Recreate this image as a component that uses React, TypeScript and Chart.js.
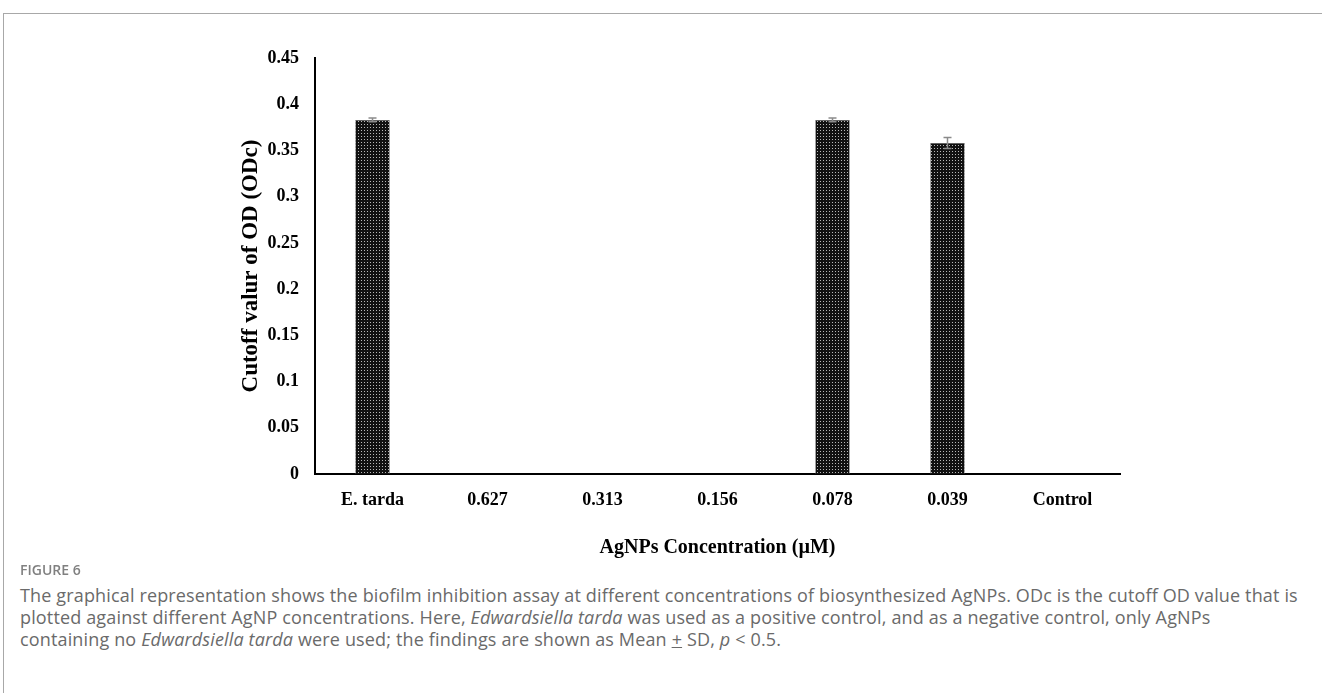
import { useEffect, useRef } from "react";
import { Chart, registerables } from "chart.js";
Chart.register(...registerables);

const categories = ["E. tarda", "0.627", "0.313", "0.156", "0.078", "0.039", "Control"];
const odcValues = [0.383, 0, 0, 0, 0.383, 0.358, 0];
const odcErrors = [0.002, 0, 0, 0, 0.002, 0.006, 0];
const yMin = 0;
const yMax = 0.45;
const yStep = 0.05;

const serif = "'Liberation Serif', 'Times New Roman', serif";

function makePattern(): CanvasPattern | string {
  const c = document.createElement("canvas");
  c.width = 3;
  c.height = 3;
  const g = c.getContext("2d");
  if (!g) return "#111";
  g.fillStyle = "#111";
  g.fillRect(0, 0, 3, 3);
  g.fillStyle = "#b8b8b8";
  g.fillRect(1, 1, 1, 1);
  const p = g.createPattern(c, "repeat");
  return p || "#111";
}

const errorBarPlugin = {
  id: "errorBars",
  afterDatasetsDraw(chart: any) {
    const ctx = chart.ctx;
    const meta = chart.getDatasetMeta(0);
    const yScale = chart.scales.y;
    ctx.save();
    ctx.strokeStyle = "#8a8a8a";
    ctx.lineWidth = 1.5;
    meta.data.forEach((bar: any, i: number) => {
      const v = odcValues[i];
      const e = odcErrors[i];
      if (!e) return;
      const x = bar.x;
      const yTop = yScale.getPixelForValue(v + e);
      const yBot = yScale.getPixelForValue(v - e);
      ctx.beginPath();
      ctx.moveTo(x, yTop);
      ctx.lineTo(x, yBot);
      ctx.moveTo(x - 4, yTop);
      ctx.lineTo(x + 4, yTop);
      ctx.moveTo(x - 4, yBot);
      ctx.lineTo(x + 4, yBot);
      ctx.stroke();
    });
    ctx.restore();
  },
};

export default function App() {
  const ref = useRef<HTMLCanvasElement | null>(null);

  useEffect(() => {
    document.body.style.margin = "0";
    const canvas = ref.current;
    if (!canvas) return;
    const chart = new Chart(canvas, {
      type: "bar",
      data: {
        labels: categories,
        datasets: [
          {
            label: "ODc",
            data: odcValues,
            backgroundColor: makePattern() as any,
            borderColor: "#666",
            borderWidth: 0.5,
            barPercentage: 0.3,
            categoryPercentage: 1,
          },
        ],
      },
      options: {
        animation: false,
        responsive: false,
        maintainAspectRatio: false,
        layout: { padding: { left: 232, right: 202, top: 58, bottom: 0 } },
        plugins: {
          legend: { display: false },
          tooltip: { enabled: false },
        },
        scales: {
          x: {
            grid: { display: false, drawTicks: false },
            border: { color: "#000", width: 2 },
            ticks: {
              color: "#000",
              font: { family: serif, size: 18, weight: "bold" },
              padding: 16,
              maxRotation: 0,
            },
            title: {
              display: true,
              text: "AgNPs Concentration (µM)",
              color: "#000",
              font: { family: serif, size: 20, weight: "bold" },
              padding: { top: 0, bottom: 20 },
            },
            afterFit: (scale: any) => {
              scale.height = 106;
            },
          },
          y: {
            min: yMin,
            max: yMax,
            grid: { display: false, drawTicks: false },
            border: { color: "#000", width: 2 },
            ticks: {
              stepSize: yStep,
              color: "#000",
              font: { family: serif, size: 18, weight: "bold" },
              padding: 16,
              callback: (v: any) => String(Number(Number(v).toFixed(2))),
            },
            title: {
              display: true,
              text: "Cutoff valur of OD (ODc)",
              color: "#000",
              font: { family: serif, size: 23, weight: "bold" },
              padding: { top: 5, bottom: 0 },
            },
            afterFit: (scale: any) => {
              scale.width = 83;
            },
          },
        },
      },
      plugins: [errorBarPlugin],
    });
    return () => chart.destroy();
  }, []);

  const capFont = "'Open Sans', 'Noto Sans', sans-serif";

  return (
    <div style={{ position: "relative", width: 1322, height: 693, background: "#fff", overflow: "hidden" }}>
      <div
        style={{
          position: "absolute",
          left: 3,
          top: 13,
          right: -2,
          bottom: -2,
          borderTop: "1px solid #a8a8a8",
          borderLeft: "1px solid #a8a8a8",
        }}
      />
      <canvas ref={ref} width={1322} height={580} style={{ position: "absolute", left: 0, top: 0, width: 1322, height: 580 }} />
      <div
        style={{
          position: "absolute",
          left: 20,
          top: 561,
          fontFamily: capFont,
          fontSize: 14,
          fontWeight: 600,
          color: "#808080",
          lineHeight: "18px",
        }}
      >
        FIGURE 6
      </div>
      <div
        style={{
          position: "absolute",
          left: 20,
          top: 584,
          fontFamily: capFont,
          fontSize: 18,
          letterSpacing: 0.15,
          color: "#6a6a6a",
          lineHeight: "22px",
          whiteSpace: "nowrap",
        }}
      >
        <div>
          The graphical representation shows the biofilm inhibition assay at different concentrations of biosynthesized AgNPs. ODc is the cutoff OD value that is
        </div>
        <div>
          plotted against different AgNP concentrations. Here, <i>Edwardsiella tarda</i> was used as a positive control, and as a negative control, only AgNPs
        </div>
        <div>
          containing no <i>Edwardsiella tarda</i> were used; the findings are shown as Mean <u>+</u> SD, <i>p</i> &lt; 0.5.
        </div>
      </div>
    </div>
  );
}
